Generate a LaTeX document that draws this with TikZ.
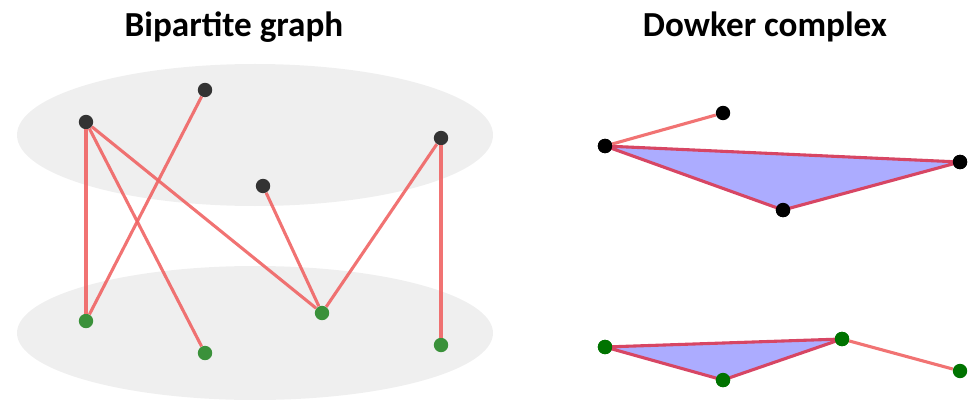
\documentclass[tikz,border=0pt]{standalone}
\usepackage{fontspec}
\setmainfont{Carlito}
\usetikzlibrary{positioning}
\definecolor{layergray}{RGB}{239, 239, 239}
\definecolor{vdark}{RGB}{51, 51, 51}
\definecolor{vgreen}{RGB}{58, 145, 58}
\definecolor{sgreen}{RGB}{0, 115, 0}
\definecolor{edgered}{RGB}{240, 100, 100}
\definecolor{faceblue}{RGB}{172, 172, 255}
\definecolor{facered}{RGB}{215, 70, 100}

\begin{document}
\begin{tikzpicture}[x=0.025cm, y=-0.025cm,
    top/.style={circle, fill=vdark, inner sep=0pt, minimum size=0.36cm},
    bot/.style={circle, fill=vgreen, inner sep=0pt, minimum size=0.36cm},
    stop/.style={circle, fill=black, inner sep=0pt, minimum size=0.36cm},
    sbot/.style={circle, fill=sgreen, inner sep=0pt, minimum size=0.36cm},
    link/.style={draw=edgered, line width=2.2pt, opacity=0.9},
    face/.style={fill=faceblue, draw=facered, line width=2.2pt, line join=round},
    title/.style={font=\fontsize{25}{30}\selectfont\bfseries}
]
    \useasboundingbox (0,0) rectangle (971,400);

    % Titles
    \node[title] (t1) at (234,27) {Bipartite graph};
    \node[title] (t2) at (765,27) {Dowker complex};

    % Layers
    \fill[layergray] (255,135) ellipse [x radius=238, y radius=71];
    \fill[layergray] (255,333) ellipse [x radius=238, y radius=67];

    % Bipartite graph vertices
    \node[top] (a1) at (86,122) {};
    \node[top] (a2) at (205,90) {};
    \node[top] (a3) at (263,186) {};
    \node[top] (a4) at (441,138) {};
    \node[bot] (b1) at (86,321) {};
    \node[bot] (b2) at (205,353) {};
    \node[bot] (b3) at (322,313) {};
    \node[bot] (b4) at (441,345) {};

    % Bipartite graph edges
    \foreach \u/\v in {a1/b1, a1/b2, a1/b3, a2/b1, a3/b3, a4/b3, a4/b4}
        \draw[link] (\u) -- (\v);

    % Dowker complex, upper
    \node[stop] (p1) at (605,146) {};
    \node[stop] (p2) at (723,113) {};
    \node[stop] (p3) at (783,210) {};
    \node[stop] (p4) at (960,162) {};
    \draw[face] (p1.center) -- (p3.center) -- (p4.center) -- cycle;
    \draw[link] (p1) -- (p2);
    \foreach \n in {p1,p3,p4}
        \node[stop] at (\n) {};

    % Dowker complex, lower
    \node[sbot] (q1) at (605,347) {};
    \node[sbot] (q2) at (723,380) {};
    \node[sbot] (q3) at (842,339) {};
    \node[sbot] (q4) at (960,371) {};
    \draw[face] (q1.center) -- (q2.center) -- (q3.center) -- cycle;
    \draw[link] (q3) -- (q4);
    \foreach \n in {q1,q2,q3}
        \node[sbot] at (\n) {};
\end{tikzpicture}
\end{document}
